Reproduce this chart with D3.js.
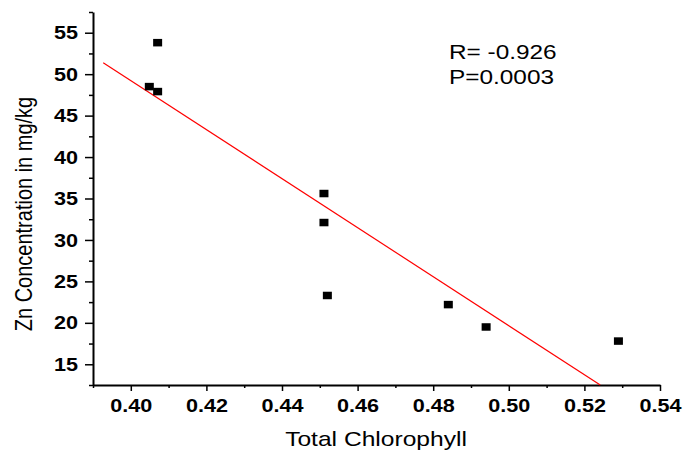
<!DOCTYPE html>
<html>
<head>
<meta charset="utf-8">
<script src="https://cdn.jsdelivr.net/npm/d3@7"></script>
<style>
  html, body { margin: 0; padding: 0; background: #fff; }
  svg { display: block; }
</style>
</head>
<body>
<svg id="chart" width="684" height="453"></svg>
<script>
// ---- data ----
const chlorophyll = [0.4049, 0.4071, 0.4071, 0.4511, 0.4511, 0.4520, 0.4840, 0.4940, 0.5290];
const zinc        = [48.5, 53.8, 47.9, 35.6, 32.1, 23.3, 22.2, 19.5, 17.8];
const fitX = [0.3927, 0.5242];
const fitY = [51.38, 12.5];
const xMajorTicks = [0.40, 0.42, 0.44, 0.46, 0.48, 0.50, 0.52, 0.54];
const xMinorTicks = [0.39, 0.41, 0.43, 0.45, 0.47, 0.49, 0.51, 0.53];
const yMajorTicks = [15, 20, 25, 30, 35, 40, 45, 50, 55];
const yMinorTicks = [12.5, 17.5, 22.5, 27.5, 32.5, 37.5, 42.5, 47.5, 52.5, 57.5];
const annotations = ["R= -0.926", "P=0.0003"];
const xTitle = "Total Chlorophyll";
const yTitle = "Zn Concentration in mg/kg";

// ---- layout ----
const svg = d3.select("#chart");
const SX = 1.25; // horizontal stretch of the original picture
const TS = 1.2;  // stretch for tick labels
const x = d3.scaleLinear().domain([0.39, 0.54]).range([93, 660]);
const y = d3.scaleLinear().domain([12.5, 57.5]).range([385, 12]);

// minor ticks
svg.append("g").attr("transform", "translate(0,385)")
  .call(d3.axisBottom(x).tickValues(xMinorTicks).tickSize(3).tickSizeOuter(0).tickFormat(""))
  .call(g => g.select(".domain").remove())
  .call(g => g.selectAll("line").attr("stroke", "#000").attr("stroke-width", 1.5));
svg.append("g").attr("transform", "translate(93,0)")
  .call(d3.axisLeft(y).tickValues(yMinorTicks).tickSize(4).tickSizeOuter(0).tickFormat(""))
  .call(g => g.select(".domain").remove())
  .call(g => g.selectAll("line").attr("stroke", "#000").attr("stroke-width", 1.5));

// major x axis
svg.append("g").attr("transform", "translate(0,385)")
  .call(d3.axisBottom(x).tickValues(xMajorTicks).tickSize(6).tickSizeOuter(0).tickFormat(d3.format(".2f")))
  .call(g => g.select(".domain").attr("stroke", "#000").attr("stroke-width", 2))
  .call(g => g.selectAll("line").attr("stroke", "#000").attr("stroke-width", 1.5))
  .call(g => g.selectAll("text")
    .attr("y", 27.5).attr("dy", 0)
    .attr("transform", `scale(${TS},1)`)
    .attr("fill", "#000")
    .style("font-family", "'Liberation Sans', Arial, sans-serif")
    .style("font-weight", "bold")
    .style("font-size", "18px"));

// major y axis
svg.append("g").attr("transform", "translate(93,0)")
  .call(d3.axisLeft(y).tickValues(yMajorTicks).tickSize(8).tickSizeOuter(0).tickFormat(d3.format("d")))
  .call(g => g.select(".domain").attr("stroke", "#000").attr("stroke-width", 2))
  .call(g => g.selectAll("line").attr("stroke", "#000").attr("stroke-width", 1.5))
  .call(g => g.selectAll("text")
    .attr("x", -15 / TS).attr("dy", "0.34em")
    .attr("transform", `scale(${TS},1)`)
    .attr("fill", "#000")
    .style("font-family", "'Liberation Sans', Arial, sans-serif")
    .style("font-weight", "bold")
    .style("font-size", "18px"));

// axis titles
svg.append("text")
  .attr("transform", `translate(376,446) scale(${SX * 0.96},1)`)
  .attr("text-anchor", "middle")
  .style("font-family", "'Liberation Sans', Arial, sans-serif")
  .style("font-size", "20.5px")
  .text(xTitle);

svg.append("text")
  .attr("transform", `translate(32,214) scale(${SX * 0.95},1) rotate(-90)`)
  .attr("text-anchor", "middle")
  .style("font-family", "'Liberation Sans', Arial, sans-serif")
  .style("font-size", "20px")
  .text(yTitle);

// fit line
const line = d3.line().x(d => x(d[0])).y(d => y(d[1]));
svg.append("path")
  .datum(d3.zip(fitX, fitY))
  .attr("d", line)
  .attr("fill", "none")
  .attr("stroke", "#ff0000")
  .attr("stroke-width", 1.2);

// points
const pts = d3.zip(chlorophyll, zinc);
svg.append("g").selectAll("rect").data(pts).join("rect")
  .attr("x", d => x(d[0]) - 4.5)
  .attr("y", d => y(d[1]) - 3.75)
  .attr("width", 9)
  .attr("height", 7.5)
  .attr("fill", "#000");

// annotations
svg.append("g").selectAll("text").data(annotations).join("text")
  .attr("transform", (d, i) => `translate(449,${59 + i * 25}) scale(${SX},1)`)
  .style("font-family", "'Liberation Sans', Arial, sans-serif")
  .style("font-size", "19.5px")
  .attr("fill", "#000")
  .text(d => d);
</script>
</body>
</html>
